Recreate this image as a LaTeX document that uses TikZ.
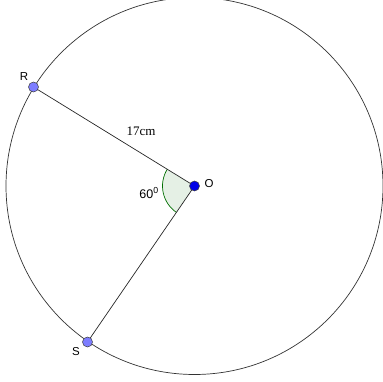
\documentclass[tikz,border=0pt]{standalone}
\usepackage{fontspec}
\setmainfont{Liberation Serif}
\setsansfont{Liberation Sans}
\definecolor{sectorfill}{RGB}{229,240,229}
\definecolor{sectorline}{RGB}{0,110,0}
\definecolor{ptlight}{RGB}{125,125,255}
\definecolor{ptdark}{RGB}{0,0,230}
\begin{document}
\begin{tikzpicture}[x=1pt,y=-1pt,
  pt/.style={circle,draw=black!75,line width=0.5pt,inner sep=0pt,minimum size=10pt},
  lab/.style={font=\sffamily\fontsize{11.5}{13}\selectfont,inner sep=1pt},
  txt/.style={font=\fontsize{13}{15}\selectfont,inner sep=1pt},
  angtxt/.style={font=\sffamily\fontsize{12.5}{15}\selectfont,inner sep=1pt},
  seg/.style={black!85,line width=0.7pt}]
\useasboundingbox (0,0) rectangle (383,382);
\clip (0,0) rectangle (383,382);
\coordinate (O) at (194.5,186);
\coordinate (Rp) at (33.5,87);
\coordinate (Sp) at (87.5,342);
% sector
\fill[sectorfill] (O) -- ++(124.4:32) arc[start angle=124.4,end angle=211.6,radius=32] -- cycle;
\draw[sectorline,line width=0.7pt] (O) ++(124.4:32) arc[start angle=124.4,end angle=211.6,radius=32];
% circle
\draw[black!80,line width=0.7pt] (O) circle[radius=188.5];
% radii
\draw[seg] (O) -- (Rp);
\draw[seg] (O) -- (Sp);
% points
\node[pt,fill=ptlight] (R) at (Rp) {};
\node[pt,fill=ptlight] (S) at (Sp) {};
\node[pt,fill=ptdark] (Oc) at (O) {};
% labels
\node[lab] (lR) at (24,77) {R};
\node[lab] (lS) at (76,352) {S};
\node[lab] (lO) at (209,184) {O};
\node[txt] (len) at (141,131) {17cm};
\node[angtxt] (ang) at (149,193) {60\textsuperscript{0}};
\end{tikzpicture}
\end{document}
